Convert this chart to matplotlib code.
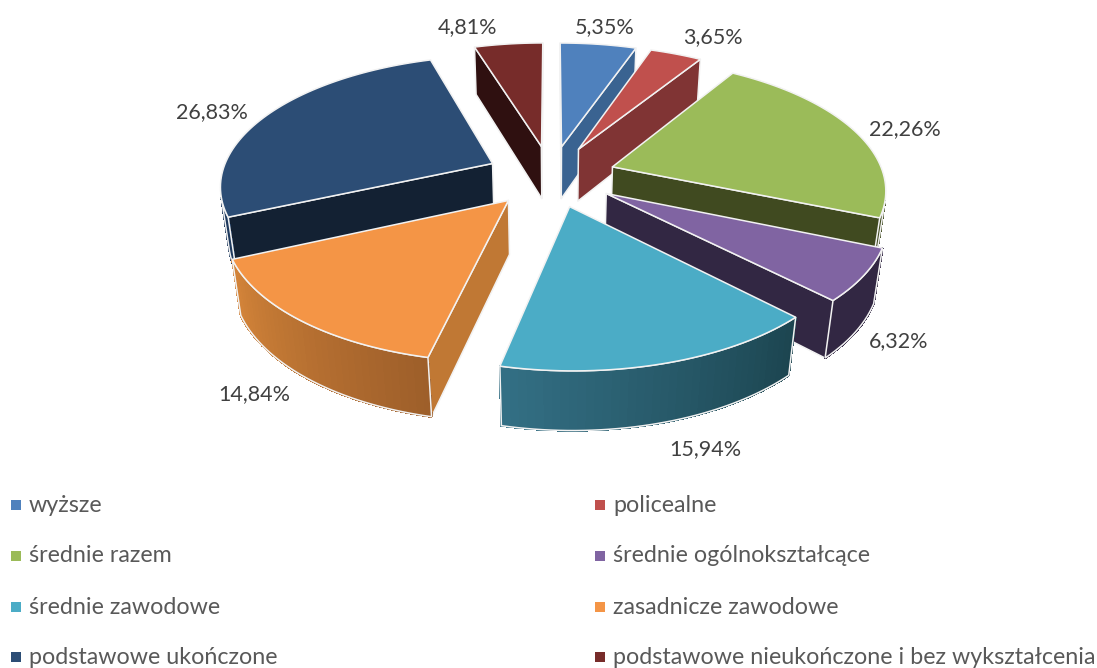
# Wykres kołowy 3D z wysuniętymi wycinkami (rzut perspektywiczny rysowany ręcznie)

import matplotlib.pyplot as plt
import numpy as np
from matplotlib.patches import Polygon

plt.rcParams['font.family'] = ['Lato', 'DejaVu Sans']

categories = ['wyższe', 'policealne', 'średnie razem', 'średnie ogólnokształcące',
              'średnie zawodowe', 'zasadnicze zawodowe', 'podstawowe ukończone',
              'podstawowe nieukończone i bez wykształcenia']
values = [5.35, 3.65, 22.26, 6.32, 15.94, 14.84, 26.83, 4.81]

top_colors = ['#4f81bd', '#c0504d', '#9bbb59', '#8064a2', '#4bacc6', '#f49546', '#2c4d75', '#772c2a']
side_colors = ['#3a6391', '#803434', '#404a20', '#322743', '#1c4652', '#c07834', '#132133', '#2f1010']
# kolory brzegu zewnętrznego: początek i koniec łuku
outer_from = ['#3a6391', '#803434', '#404a20', '#322743', '#1c4550', '#9e5f2a', '#1f3a5e', '#2f1010']
outer_to = ['#3a6391', '#803434', '#404a20', '#322743', '#336f84', '#d28339', '#1f3a5e', '#2f1010']

label_pos = [(605, 27), (713, 37), (905, 129), (899, 341), (705, 449), (254, 394), (212, 112), (468, 27)]
legend_x = [16, 600]
legend_y = [505, 556, 607, 657]

# parametry rzutu
cx, cy = 551, 176
R, k = 271.5, 0.472
p = 0.155
q = 0.025
depth = 53
explode = 0.24


def project(X, Y, z=0.0):
    s = 1 / (1 + p*Y + q*z)
    return cx + R*X*s, cy - R*k*Y*s + depth*z/(1 + p*Y)


def rgb(c):
    return np.array([int(c[i:i+2], 16) for i in (1, 3, 5)]) / 255


def area(pts):
    a = np.array(pts)
    x, y = a[:, 0], a[:, 1]
    return 0.5*np.sum(x*np.roll(y, -1) - np.roll(x, -1)*y)


def draw_face(ax, pts, color, zorder):
    ax.add_patch(Polygon(pts, closed=True, fc=color, ec='#f2f2f2', lw=1.1, joinstyle='round', zorder=zorder))


fig = plt.figure(figsize=(10.97, 6.68), dpi=100)
ax = fig.add_axes([0, 0, 1, 1])
ax.set_xlim(0, 1097)
ax.set_ylim(668, 0)
ax.axis('off')

total = sum(values)
edges = np.cumsum([0] + values) / total * 2*np.pi
mids = (edges[:-1] + edges[1:]) / 2
order = np.argsort(-np.cos(mids))

z = 1
for i in order:
    a0, a1 = edges[i], edges[i+1]
    ox, oy = explode*np.sin(mids[i]), explode*np.cos(mids[i])
    t = np.linspace(a0, a1, max(int((a1 - a0)*40), 6))
    arc_x, arc_y = ox + np.sin(t), oy + np.cos(t)

    top = [project(ox, oy)] + [project(a, b) for a, b in zip(arc_x, arc_y)]

    # sciany boczne
    start = [project(ox, oy), project(arc_x[0], arc_y[0]), project(arc_x[0], arc_y[0], 1), project(ox, oy, 1)]
    end = [project(arc_x[-1], arc_y[-1]), project(ox, oy), project(ox, oy, 1), project(arc_x[-1], arc_y[-1], 1)]
    for face in (start, end):
        if area(face) < 0:
            draw_face(ax, face, side_colors[i], z)
    z += 1

    # zewnetrzny brzeg, kawalki z gradientem
    c0, c1 = rgb(outer_from[i]), rgb(outer_to[i])
    drawn = []
    for j in range(len(t) - 1):
        quad = [project(arc_x[j], arc_y[j]), project(arc_x[j+1], arc_y[j+1]),
                project(arc_x[j+1], arc_y[j+1], 1), project(arc_x[j], arc_y[j], 1)]
        if area(quad) < 0:
            col = c0 + (c1 - c0)*j/(len(t) - 2)
            ax.add_patch(Polygon(quad, closed=True, fc=col, ec=col, lw=1.0, antialiased=False, zorder=z))
            drawn.append(j)
    if drawn:
        lo, hi = drawn[0], drawn[-1] + 1
        outline = [project(arc_x[j], arc_y[j], 1) for j in range(lo, hi + 1)]
        outline_up = [project(arc_x[j], arc_y[j]) for j in range(hi, lo - 1, -1)]
        ax.add_patch(Polygon(outline + outline_up, closed=True, fc='none', ec='#f2f2f2', lw=1.1, zorder=z))
    z += 1

    draw_face(ax, top, top_colors[i], z)
    z += 1

for v, pos in zip(values, label_pos):
    ax.text(pos[0], pos[1], f'{v:.2f}%'.replace('.', ','), ha='center', va='center',
            fontsize=15.5, color='#404040', zorder=z)

for n, name in enumerate(categories):
    lx, ly = legend_x[n % 2], legend_y[n // 2]
    ax.scatter([lx], [ly], marker='s', s=50, c=top_colors[n], linewidths=0, zorder=z)
    ax.text(lx + 13, ly, name, ha='left', va='center', fontsize=16.75, color='#595959', zorder=z)

fig.savefig('out.png', dpi=100)
